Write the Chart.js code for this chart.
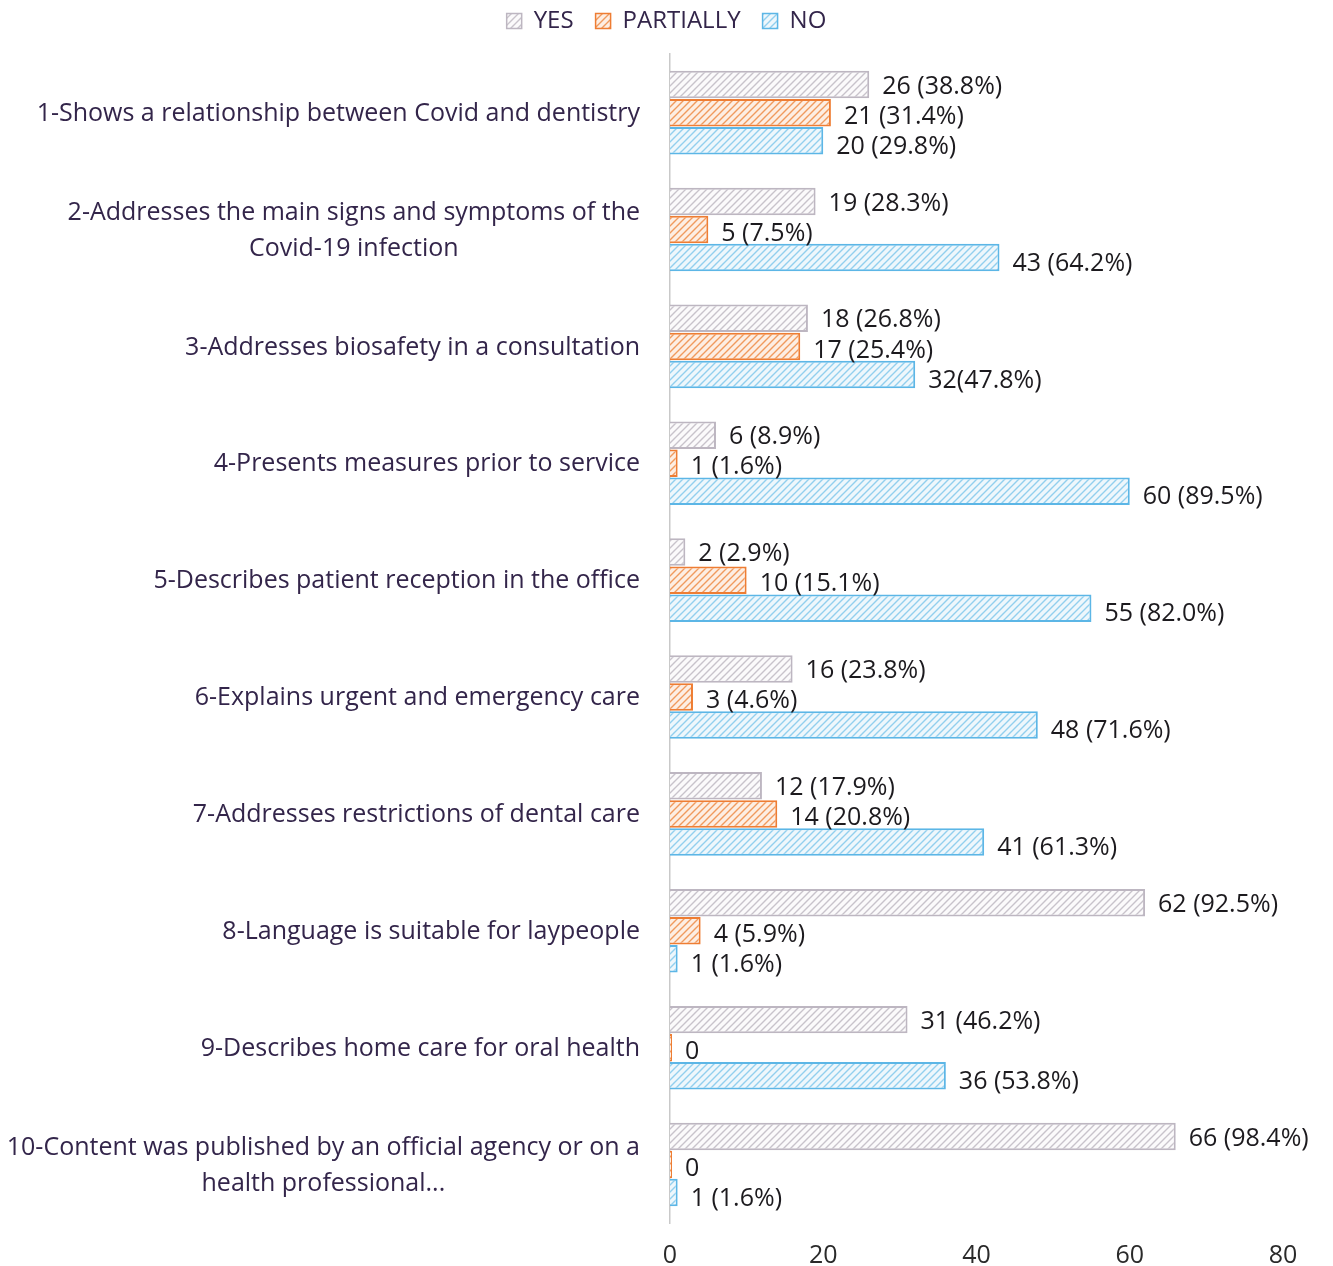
<!DOCTYPE html>
<html>
<head>
<meta charset="utf-8">
<script src="https://cdn.jsdelivr.net/npm/chart.js@4.4.1/dist/chart.umd.min.js"></script>
<style>
  html, body { margin: 0; padding: 0; background: #ffffff; }
  #wrap { width: 1333px; height: 1266px; }
</style>
</head>
<body>
<div id="wrap"><canvas id="c" width="1333" height="1266"></canvas></div>
<script>
const categories = [
  ["1-Shows a relationship between Covid and dentistry"],
  ["2-Addresses the main signs and symptoms of the", "Covid-19 infection"],
  ["3-Addresses biosafety in a consultation"],
  ["4-Presents measures prior to service"],
  ["5-Describes patient reception in the office"],
  ["6-Explains urgent and emergency care"],
  ["7-Addresses restrictions of dental care"],
  ["8-Language is suitable for laypeople"],
  ["9-Describes home care for oral health"],
  ["10-Content was published by an official agency or on a", "health professional..."]
];
const seriesNames = ["YES", "PARTIALLY", "NO"];
const yesValues = [26, 19, 18, 6, 2, 16, 12, 62, 31, 66];
const partiallyValues = [21, 5, 17, 1, 10, 3, 14, 4, 0, 0];
const noValues = [20, 43, 32, 60, 55, 48, 41, 1, 36, 1];
const yesLabels = ["26 (38.8%)", "19 (28.3%)", "18 (26.8%)", "6 (8.9%)", "2 (2.9%)", "16 (23.8%)", "12 (17.9%)", "62 (92.5%)", "31 (46.2%)", "66 (98.4%)"];
const partiallyLabels = ["21 (31.4%)", "5 (7.5%)", "17 (25.4%)", "1 (1.6%)", "10 (15.1%)", "3 (4.6%)", "14 (20.8%)", "4 (5.9%)", "0", "0"];
const noLabels = ["20 (29.8%)", "43 (64.2%)", "32(47.8%)", "60 (89.5%)", "55 (82.0%)", "48 (71.6%)", "41 (61.3%)", "1 (1.6%)", "36 (53.8%)", "1 (1.6%)"];
const xTicks = [0, 20, 40, 60, 80];

const ctx = document.getElementById('c').getContext('2d');

function pat(bg, line) {
  const s = 7;
  const cv = document.createElement('canvas');
  cv.width = s; cv.height = s;
  const g = cv.getContext('2d');
  g.fillStyle = bg; g.fillRect(0, 0, s, s);
  g.strokeStyle = line; g.lineWidth = 1.4;
  g.beginPath();
  g.moveTo(0, s); g.lineTo(s, 0);
  g.moveTo(-1, 1); g.lineTo(1, -1);
  g.moveTo(s - 1, s + 1); g.lineTo(s + 1, s - 1);
  g.stroke();
  return ctx.createPattern(cv, 'repeat');
}

const fills = [pat('#fbfafb', '#c8c3cb'), pat('#fdeee3', '#f09a5e'), pat('#eef7fc', '#92cfee')];
const borders = ['#bdb6c1', '#ee7d33', '#5cb6e6'];
const valueLabels = [yesLabels, partiallyLabels, noLabels];
const valueArrays = [yesValues, partiallyValues, noValues];

const FAMILY = '"Open Sans", Lato, sans-serif';
const LABEL_FONT = '25px ' + FAMILY;
const catColor = '#33254a';

const yLabelPlugin = {
  id: 'yLabels',
  afterDraw(chart) {
    const c = chart.ctx;
    const y = chart.scales.y;
    c.save();
    c.font = LABEL_FONT;
    c.fillStyle = catColor;
    c.textAlign = 'center';
    c.textBaseline = 'middle';
    const rightEdge = 640;
    const lh = 36;
    categories.forEach((lines, i) => {
      const cy = y.getPixelForTick(i) + 1;
      const maxW = Math.max(...lines.map(l => c.measureText(l).width));
      const cx = rightEdge - maxW / 2;
      const y0 = cy - (lines.length - 1) * lh / 2;
      lines.forEach((l, k) => c.fillText(l, cx, y0 + k * lh));
    });
    c.restore();
  }
};

const valuePlugin = {
  id: 'valueLabels',
  afterDatasetsDraw(chart) {
    const c = chart.ctx;
    c.save();
    c.font = LABEL_FONT;
    c.fillStyle = '#1c1a1e';
    c.textAlign = 'left';
    c.textBaseline = 'middle';
    chart.data.datasets.forEach((ds, di) => {
      const meta = chart.getDatasetMeta(di);
      meta.data.forEach((el, i) => {
        c.fillText(valueLabels[di][i], el.x + 13, el.y + 2 + di * 2);
      });
    });
    c.restore();
  }
};

new Chart(ctx, {
  type: 'bar',
  data: {
    labels: categories,
    datasets: seriesNames.map((n, i) => ({
      label: n,
      data: valueArrays[i],
      backgroundColor: fills[i],
      borderColor: borders[i],
      borderWidth: 2,
      minBarLength: i === 1 ? 2 : 0,
      categoryPercentage: 0.72,
      barPercentage: 0.98
    }))
  },
  options: {
    indexAxis: 'y',
    responsive: false,
    animation: false,
    devicePixelRatio: 1,
    layout: { padding: { left: 50, right: 50, top: -13, bottom: 0 } },
    plugins: {
      tooltip: { enabled: false },
      subtitle: {
        display: true,
        text: ' ',
        weight: 500,
        font: { size: 1 },
        padding: { top: 10, bottom: 0 }
      },
      legend: {
        position: 'top',
        labels: {
          boxWidth: 15,
          boxHeight: 15,
          padding: 22,
          color: catColor,
          font: { family: FAMILY, size: 24 },
          generateLabels(chart) {
            return chart.data.datasets.map((ds, i) => ({
              text: ds.label,
              fillStyle: fills[i],
              strokeStyle: borders[i],
              lineWidth: 1.5,
              fontColor: catColor,
              datasetIndex: i,
              hidden: false
            }));
          }
        }
      }
    },
    scales: {
      x: {
        min: 0,
        max: 80,
        afterBuildTicks(s) { s.ticks = xTicks.map(v => ({ value: v })); },
        grid: { display: false, drawTicks: false },
        border: { display: false },
        ticks: {
          color: '#2a2a2a',
          padding: 18,
          font: { family: FAMILY, size: 25 }
        },
        afterFit(s) { s.height = 43; }
      },
      y: {
        grid: { display: false, drawTicks: false },
        border: { display: true, color: '#c9c9c9', width: 1.5 },
        ticks: { display: false },
        afterFit(s) { s.width = 620; }
      }
    }
  },
  plugins: [yLabelPlugin, valuePlugin]
});
</script>
</body>
</html>
